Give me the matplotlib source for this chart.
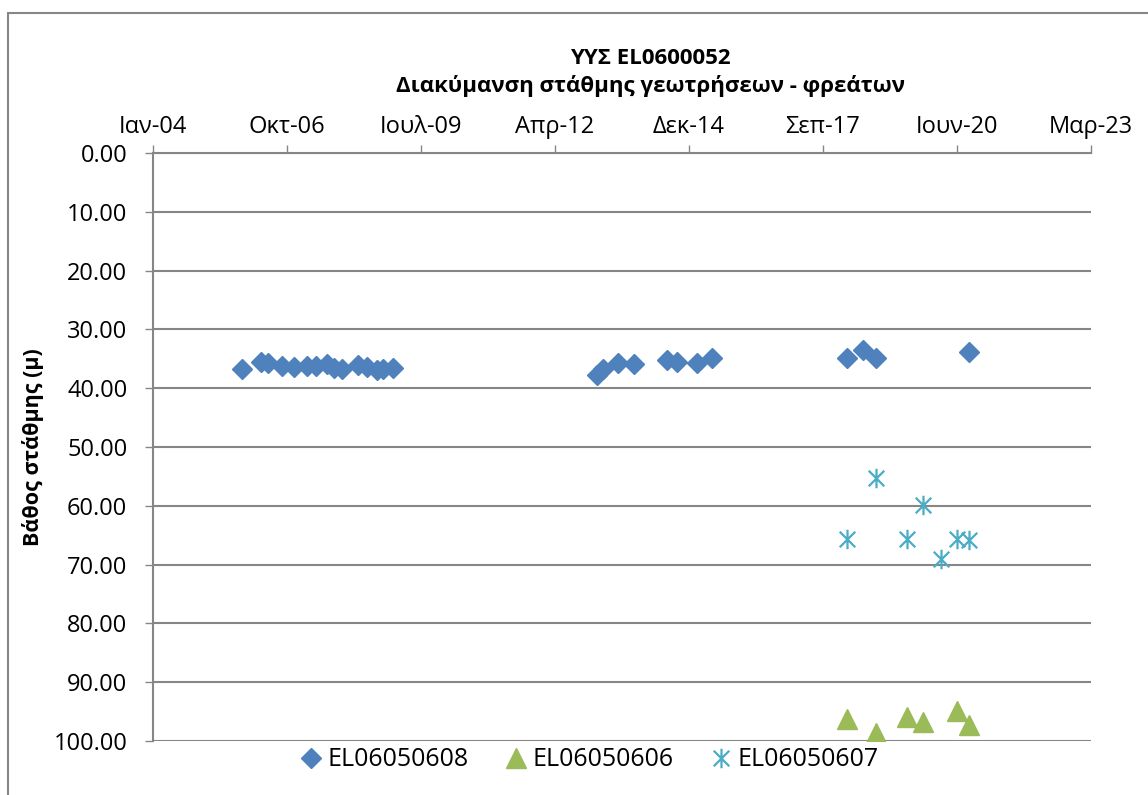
import pandas as pd
import matplotlib
import matplotlib.pyplot as plt
from matplotlib.path import Path
from matplotlib.patches import Rectangle
from matplotlib.lines import Line2D

matplotlib.rcParams['font.family'] = ['Open Sans', 'DejaVu Sans']

# --- data ---
dates_608 = ['2005-11-07', '2006-03-31', '2006-05-22', '2006-09-01', '2006-12-02',
             '2007-03-07', '2007-05-13', '2007-08-03', '2007-09-29', '2007-11-23',
             '2008-03-26', '2008-05-28', '2008-08-10', '2008-09-29', '2008-12-12',
             '2013-02-06', '2013-03-27', '2013-07-17', '2013-11-12', '2014-07-14',
             '2014-09-26', '2015-02-22', '2015-06-14',
             '2018-03-18', '2018-07-16', '2018-10-24', '2020-09-18']
depth_608 = [36.8, 35.5, 35.7, 36.2, 36.4, 36.2, 36.2, 35.8, 36.6, 36.8,
             36.05, 36.4, 36.9, 36.8, 36.6,
             37.8, 36.8, 35.7, 35.8, 35.2, 35.5, 35.7, 34.9,
             34.8, 33.5, 34.8, 33.9]

dates_606 = ['2018-03-18', '2018-10-21', '2019-06-13', '2019-10-10', '2020-06-16', '2020-09-18']
depth_606 = [96.3, 98.7, 96.0, 96.7, 94.9, 97.2]

dates_607 = ['2018-03-18', '2018-10-21', '2019-06-13', '2019-10-10', '2020-02-17', '2020-06-16', '2020-09-18']
depth_607 = [65.6, 55.2, 65.7, 59.9, 69.1, 65.7, 65.8]

tick_labels = ['Ιαν-04', 'Οκτ-06', 'Ιουλ-09', 'Απρ-12', 'Δεκ-14', 'Σεπ-17', 'Ιουν-20', 'Μαρ-23']
tick_dates = pd.date_range('2004-01-14', periods=len(tick_labels), freq='1000D')

names = ['EL06050608', 'EL06050606', 'EL06050607']
colors = ['#4F81BD', '#9BBB59', '#4BACC6']
grid_col = '#868686'

# asterisk marker like Excel's "star"
star = Path([(0, -1), (0, 1), (-0.8, -0.8), (0.8, 0.8), (-0.8, 0.8), (0.8, -0.8)],
            [Path.MOVETO, Path.LINETO, Path.MOVETO, Path.LINETO, Path.MOVETO, Path.LINETO])

W, H = 1148, 795
fig = plt.figure(figsize=(W / 100, H / 100), dpi=100)
fig.patches.append(Rectangle((8 / W, -0.1), 1.2, 1 - 13 / H + 0.1, transform=fig.transFigure,
                             fill=False, edgecolor=grid_col, lw=1.5))
ax = fig.add_axes([153 / W, 1 - 741 / H, (1091 - 153) / W, (741 - 153) / H])

ax.plot(pd.to_datetime(dates_608), depth_608, ls='none', marker='D', ms=10,
        color=colors[0], mec=colors[0], label=names[0], zorder=3)
ax.plot(pd.to_datetime(dates_606), depth_606, ls='none', marker='^', ms=14,
        color=colors[1], mec=colors[1], label=names[1], zorder=3)
ax.plot(pd.to_datetime(dates_607), depth_607, ls='none', marker=star, ms=14,
        color=colors[2], mec=colors[2], mew=1.6, label=names[2], zorder=3)

ax.set_ylim(100, 0)
ax.set_yticks(range(0, 101, 10))
ax.set_yticklabels(['%.2f' % v for v in range(0, 101, 10)])
ax.set_xlim(tick_dates[0], tick_dates[-1])
ax.set_xticks(tick_dates)
ax.set_xticklabels(tick_labels)
ax.xaxis.tick_top()

ax.yaxis.grid(True, color=grid_col, lw=1.5)
ax.set_axisbelow(True)
for s in ['right', 'bottom']:
    ax.spines[s].set_visible(False)
for s in ['top', 'left']:
    ax.spines[s].set_color(grid_col)
    ax.spines[s].set_linewidth(1.5)
ax.tick_params(axis='both', direction='out', length=6, width=1, color=grid_col,
               labelsize=17)
ax.tick_params(axis='x', pad=4)
ax.tick_params(axis='y', pad=12.5)

fig.text(33 / W, 1 - 447 / H, 'Βάθος στάθμης (μ)', rotation=90, ha='center', va='center',
         fontsize=15.5, fontweight='bold')
fig.text(650 / W, 1 - 64 / H, 'ΥΥΣ EL0600052', ha='center', va='baseline',
         fontsize=16, fontweight='bold')
fig.text(650 / W, 1 - 92 / H, 'Διακύμανση στάθμης γεωτρήσεων - φρεάτων', ha='center',
         va='baseline', fontsize=16, fontweight='bold')

handles = [Line2D([], [], ls='none', marker='D', ms=10, color=colors[0]),
           Line2D([], [], ls='none', marker='^', ms=14, color=colors[1]),
           Line2D([], [], ls='none', marker=star, ms=14, mew=1.6, color=colors[2])]
fig.legend(handles, names, loc='center', bbox_to_anchor=(590 / W, 1 - 760 / H), ncol=3,
           frameon=False, fontsize=18, handlelength=0.8, handletextpad=0.25,
           columnspacing=1.5, borderpad=0)

fig.savefig('out.png', dpi=100)
